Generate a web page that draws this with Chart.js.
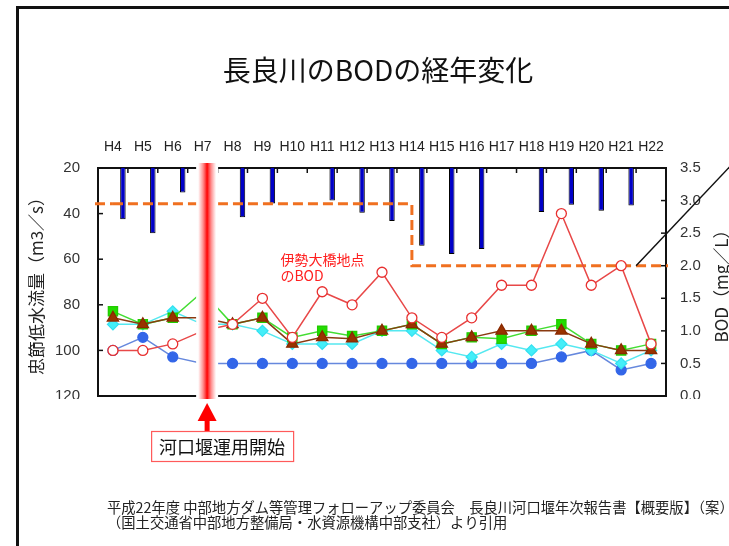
<!DOCTYPE html>
<html><head><meta charset="utf-8">
<script src="https://cdn.jsdelivr.net/npm/chart.js@4"></script>
<style>
html,body{margin:0;padding:0;background:#fff;}
#wrap{position:relative;width:729px;height:546px;overflow:hidden;background:#fff;}
#frame{position:absolute;left:16px;top:6px;width:800px;height:600px;border-left:3px solid #111;border-top:3px solid #111;}
canvas{position:absolute;left:0;top:0;}
</style></head><body>
<div id="wrap"><div id="frame"></div><canvas id="c" width="729" height="546"></canvas></div>
<script>
const years = ['H4','H5','H6','H7','H8','H9','H10','H11','H12','H13','H14','H15','H16','H17','H18','H19','H20','H21','H22'];
// 忠節低水流量 (m3/s)
const flow = [42.5, 48.6, 30.7, null, 41.6, 35.6, null, 34.3, 39.6, 43.2, 54.1, 57.7, 55.5, null, 39.3, 36.1, 38.7, 36.4, null];
// BOD (mg/L)
const bodIse   = [0.7, 0.7, 0.8, 1.0, 1.1, 1.5, 0.9, 1.6, 1.4, 1.9, 1.2, 0.9, 1.2, 1.7, 1.7, 2.8, 1.7, 2.0, 0.8];
const bodBlue  = [0.7, 0.9, 0.6, 0.5, 0.5, 0.5, 0.5, 0.5, 0.5, 0.5, 0.5, 0.5, 0.5, 0.5, 0.5, 0.6, 0.7, 0.4, 0.5];
const bodCyan  = [1.1, 1.1, 1.3, 1.1, 1.1, 1.0, 0.8, 0.8, 0.8, 1.0, 1.0, 0.7, 0.6, 0.8, 0.7, 0.8, 0.7, 0.5, 0.7];
const bodGreen = [1.3, 1.1, 1.2, 1.6, 1.1, 1.2, 0.9, 1.0, 0.92, 1.0, 1.1, 0.8, 0.9, 0.88, 1.0, 1.1, 0.8, 0.7, 0.8];
const bodBrown = [1.2, 1.1, 1.2, 1.2, 1.1, 1.2, 0.8, 0.9, 0.88, 1.0, 1.1, 0.8, 0.9, 1.0, 1.0, 1.0, 0.8, 0.7, 0.7];
const bodStd   = [2.95, 2.95, 2.95, 2.95, 2.95, 2.95, 2.95, 2.95, 2.95, 2.95, 2.0, 2.0, 2.0, 2.0, 2.0, 2.0, 2.0, 2.0, 2.0];
const empty = years.map(() => null);

const flowTicks = {min: 20, max: 120, step: 20};
const bodTicks = {min: 0, max: 3.5, step: 0.5};

const JP = '"Noto Sans CJK JP", "Noto Sans", sans-serif';
const LAT = '"Liberation Sans", Arial, sans-serif';

const decor = {
  id: 'decor',
  beforeDatasetsDraw(chart) {
    const {ctx, chartArea: a, scales} = chart;
    ctx.save();
    ctx.strokeStyle = '#111'; ctx.lineWidth = 1.5;
    scales.yFlow.ticks.forEach((t, i) => {
      const y = scales.yFlow.getPixelForTick(i);
      ctx.beginPath(); ctx.moveTo(a.left, y); ctx.lineTo(a.left + 5, y); ctx.stroke();
    });
    scales.yBod.ticks.forEach((t, i) => {
      const y = scales.yBod.getPixelForTick(i);
      ctx.beginPath(); ctx.moveTo(a.right, y); ctx.lineTo(a.right - 5, y); ctx.stroke();
    });
    const xs = scales.x;
    for (let i = 0; i < years.length - 1; i++) {
      const bx = (xs.getPixelForValue(i) + xs.getPixelForValue(i + 1)) / 2;
      ctx.beginPath(); ctx.moveTo(bx, a.top); ctx.lineTo(bx, a.top + 5); ctx.stroke();
    }
    ctx.restore();
  },
  afterDatasetsDraw(chart) {
    const {ctx, chartArea: a, scales} = chart;
    const xs = scales.x, yb = scales.yBod;
    const band = xs.width / years.length;
    ctx.save();
    // extend standard line to plot edges
    const m = chart.getDatasetMeta(1);
    const p0 = m.data[0], pN = m.data[m.data.length - 1];
    ctx.strokeStyle = '#f07020'; ctx.lineWidth = 3; ctx.setLineDash([10, 5]);
    ctx.beginPath(); ctx.moveTo(a.left - 3, p0.y); ctx.lineTo(p0.x, p0.y); ctx.stroke();
    ctx.beginPath(); ctx.moveTo(pN.x, pN.y); ctx.lineTo(a.right + 2, pN.y); ctx.stroke();
    ctx.setLineDash([]);

    // white clip under bottom labels
    ctx.fillStyle = '#fff';
    ctx.fillRect(40, a.bottom + 3, a.left - 42, 16);
    ctx.fillRect(a.right + 4, a.bottom + 3, 50, 16);

    // H7 marker band
    const bx = xs.getPixelForValue(3) + band * 0.15;
    ctx.fillStyle = '#fff';
    ctx.fillRect(bx - 11, a.top - 6, 22, a.bottom - a.top + 9);
    const g = ctx.createLinearGradient(bx - 9, 0, bx + 9, 0);
    g.addColorStop(0, 'rgba(255,80,80,0)');
    g.addColorStop(0.25, 'rgba(255,70,70,0.55)');
    g.addColorStop(0.5, 'rgba(255,0,0,1)');
    g.addColorStop(0.75, 'rgba(255,70,70,0.55)');
    g.addColorStop(1, 'rgba(255,80,80,0)');
    ctx.fillStyle = g;
    ctx.fillRect(bx - 9, a.top - 5, 18, a.bottom - a.top + 8);

    // arrow
    const tipY = a.bottom + 7;
    ctx.fillStyle = '#ff0000';
    ctx.beginPath();
    ctx.moveTo(bx, tipY); ctx.lineTo(bx + 9.5, tipY + 18); ctx.lineTo(bx - 9.5, tipY + 18); ctx.closePath(); ctx.fill();
    ctx.fillRect(bx - 2.5, tipY + 17, 5, 11);

    // label box
    const boxL = bx - 56, boxT = tipY + 28, boxW = 142, boxH = 30;
    ctx.fillStyle = '#fff'; ctx.fillRect(boxL, boxT, boxW, boxH);
    ctx.strokeStyle = '#ff5a5a'; ctx.lineWidth = 1.2; ctx.strokeRect(boxL + 0.5, boxT + 0.5, boxW, boxH);
    ctx.fillStyle = '#111'; ctx.font = '18px ' + JP; ctx.textAlign = 'center'; ctx.textBaseline = 'middle';
    ctx.fillText('河口堰運用開始', boxL + boxW / 2, boxT + boxH / 2 + 1);

    // red annotation
    const ax = xs.getPixelForValue(5) + 18;
    ctx.fillStyle = '#ff2020'; ctx.font = '14px ' + JP; ctx.textAlign = 'left';
    ctx.fillText('伊勢大橋地点', ax, yb.getPixelForValue(2.1));
    ctx.fillText('のBOD', ax, yb.getPixelForValue(1.85));

    // leader line
    const lx = (xs.getPixelForValue(17) + xs.getPixelForValue(18)) / 2;
    const ly = yb.getPixelForValue(2.0);
    ctx.strokeStyle = '#111'; ctx.lineWidth = 1.5;
    ctx.beginPath(); ctx.moveTo(lx, ly); ctx.lineTo(lx + 130, ly - 130 * 1.057); ctx.stroke();

    // title
    ctx.fillStyle = '#111'; ctx.font = '28px ' + JP; ctx.textAlign = 'center'; ctx.textBaseline = 'middle';
    ctx.fillText('長良川のBODの経年変化', 378, 70);

    // axis titles
    ctx.font = '17px ' + JP; ctx.fillStyle = '#222';
    ctx.save(); ctx.translate(37, (a.top + a.bottom) / 2); ctx.rotate(-Math.PI / 2);
    ctx.fillText('忠節低水流量（m3／s）', 0, 0); ctx.restore();
    ctx.save(); ctx.translate(722, (a.top + a.bottom) / 2); ctx.rotate(-Math.PI / 2);
    ctx.fillText('BOD（mg／L）', 0, 0); ctx.restore();

    // footer
    ctx.font = '14.3px ' + JP; ctx.fillStyle = '#222'; ctx.textAlign = 'left';
    ctx.fillText('平成22年度 中部地方ダム等管理フォローアップ委員会　長良川河口堰年次報告書【概要版】（案）', 107, 508);
    ctx.fillText('（国土交通省中部地方整備局・水資源機構中部支社）より引用', 107, 523);
    ctx.restore();
  }
};

const lineDs = (label, data, color, lineColor, style, radius, fill) => ({
  type: 'line', label, data, xAxisID: 'x', yAxisID: 'yBod',
  borderColor: lineColor, borderWidth: 1.5,
  pointStyle: style, pointRadius: radius, pointBackgroundColor: fill,
  pointBorderColor: color, pointBorderWidth: 1.3, fill: false, tension: 0
});

new Chart(document.getElementById('c'), {
  type: 'bar',
  plugins: [decor],
  data: {
    labels: years,
    datasets: [
      lineDs('伊勢大橋', bodIse, '#e83030', '#e84848', 'circle', 5, '#ffffff'),
      {type: 'line', label: '基準', data: bodStd, xAxisID: 'x', yAxisID: 'yBod', stepped: true,
       borderColor: '#f07020', borderWidth: 3, borderDash: [10, 5], pointRadius: 0, fill: false},
      lineDs('brown', bodBrown, '#8a2a00', '#8a3a10', 'triangle', 6.5, '#993300'),
      lineDs('green', bodGreen, '#22cc00', '#44dd33', 'rect', 6.5, '#22dd00'),
      lineDs('cyan', bodCyan, '#33e0f0', '#55e8f0', 'rectRot', 5.5, '#44eef8'),
      lineDs('blue', bodBlue, '#3366e8', '#6688dd', 'circle', 5, '#3366e8'),
      {type: 'bar', label: 'd1', data: empty, xAxisID: 'x', yAxisID: 'yFlow', categoryPercentage: 1, barPercentage: 0.55},
      {type: 'bar', label: 'd2', data: empty, xAxisID: 'x', yAxisID: 'yFlow', categoryPercentage: 1, barPercentage: 0.55},
      {type: 'bar', label: '忠節低水流量', data: flow, xAxisID: 'x', yAxisID: 'yFlow',
       backgroundColor: '#0000c8', borderColor: '#000', borderWidth: 1,
       categoryPercentage: 1, barPercentage: 0.55}
    ]
  },
  options: {
    responsive: false, animation: false, devicePixelRatio: 1,
    layout: {padding: 0},
    plugins: {legend: {display: false}, tooltip: {enabled: false}, title: {display: false}},
    scales: {
      x: {type: 'category', position: 'top', offset: true,
          grid: {display: false, drawTicks: false}, border: {display: true, color: '#111', width: 2},
          ticks: {font: {family: LAT, size: 14}, color: '#222', padding: 12, maxRotation: 0, autoSkip: false},
          afterFit(s) { s.height = 168; }},
      x2: {type: 'category', labels: years, position: 'bottom', offset: true,
          grid: {display: false, drawTicks: false}, border: {display: true, color: '#111', width: 2},
          ticks: {display: false}, afterFit(s) { s.height = 150; }},
      yFlow: {type: 'linear', position: 'left', reverse: true, min: flowTicks.min, max: flowTicks.max,
          grid: {display: false, drawTicks: false}, border: {display: true, color: '#111', width: 2},
          ticks: {stepSize: flowTicks.step, font: {family: LAT, size: 15}, color: '#333', padding: 18},
          afterFit(s) { s.width = 98; }},
      yBod: {type: 'linear', position: 'right', min: bodTicks.min, max: bodTicks.max,
          grid: {display: false, drawTicks: false}, border: {display: true, color: '#111', width: 2},
          ticks: {stepSize: bodTicks.step, font: {family: LAT, size: 15}, color: '#333', padding: 14,
                  callback: v => Number(v).toFixed(1)},
          afterFit(s) { s.width = 63; }}
    }
  }
});
</script>
</body></html>
